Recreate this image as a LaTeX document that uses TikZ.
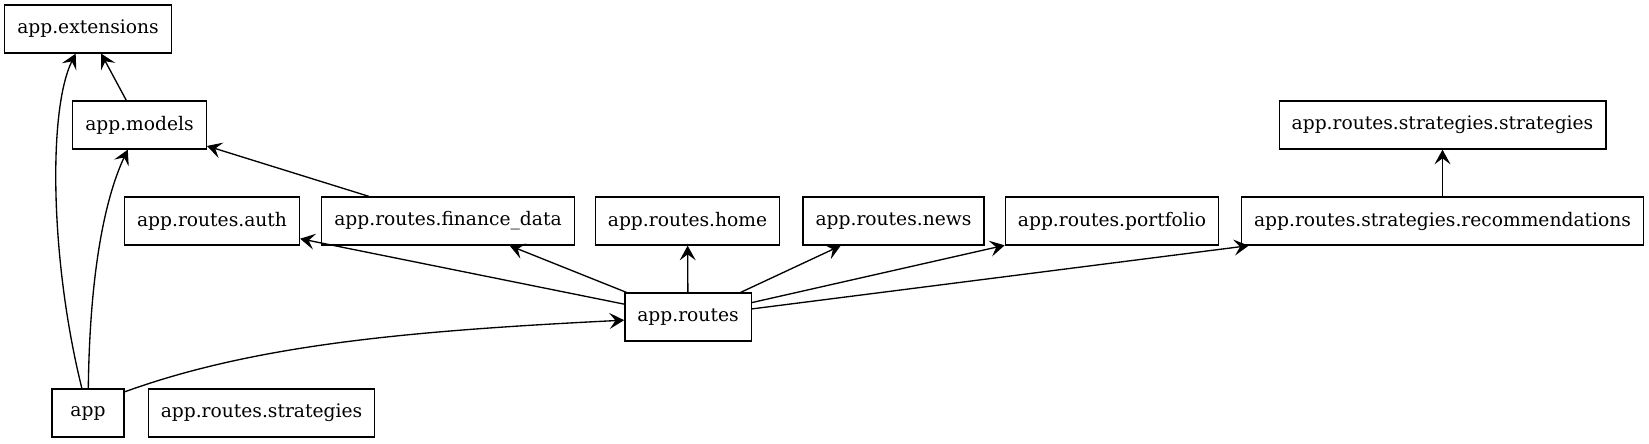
\documentclass[tikz,border=0pt]{standalone}
\usepackage{fontspec}
\setmainfont{DejaVu Serif}
\usetikzlibrary{arrows.meta}

\begin{document}
\begin{tikzpicture}[x=0.75pt, y=-0.75pt,
      module/.style={draw=black, line width=1pt, minimum height=36pt, minimum width=54pt, inner xsep=9.4pt, inner ysep=0pt, font=\fontsize{14}{16}\selectfont},
      dep/.style={-{Stealth[length=11pt, width=12pt, inset=4.5pt]}, line width=1pt}
    ]
      \useasboundingbox (0,0) rectangle (1649,443);

      % Top rows
      \node[module] (extensions) at (88,29) {app.extensions};
      \node[module] (models) at (139.5,125) {app.models};
      \node[module] (stratstrat) at (1442.5,125) {app.routes.strategies.strategies};

      % Route modules
      \node[module] (auth) at (212,221) {app.routes.auth};
      \node[module] (finance) at (448,221) {app.routes.finance\_data};
      \node[module] (home) at (687.5,221) {app.routes.home};
      \node[module] (news) at (893.5,221) {app.routes.news};
      \node[module] (portfolio) at (1112,221) {app.routes.portfolio};
      \node[module] (recommend) at (1442.5,221) {app.routes.strategies.recommendations};

      % Lower rows
      \node[module] (routes) at (688,317) {app.routes};
      \node[module] (app) at (88,413) {app};
      \node[module] (strategies) at (261.5,413) {app.routes.strategies};

      % Dependencies
      \draw[dep] (models) -- (extensions);
      \draw[dep] (app) .. controls (50,260) and (48,109) .. (extensions);
      \draw[dep] (app) .. controls (90,250) and (111,185) .. (models);
      \draw[dep] (app.30) .. controls (254,345) and (406,331) .. (routes);
      \draw[dep] (finance) -- (models);
      \draw[dep] (routes) -- (auth);
      \draw[dep] (routes) -- (finance);
      \draw[dep] (routes) -- (home);
      \draw[dep] (routes) -- (news);
      \draw[dep] (routes) -- (portfolio);
      \draw[dep] (routes) -- (recommend);
      \draw[dep] (recommend) -- (stratstrat);
    \end{tikzpicture}
\end{document}
